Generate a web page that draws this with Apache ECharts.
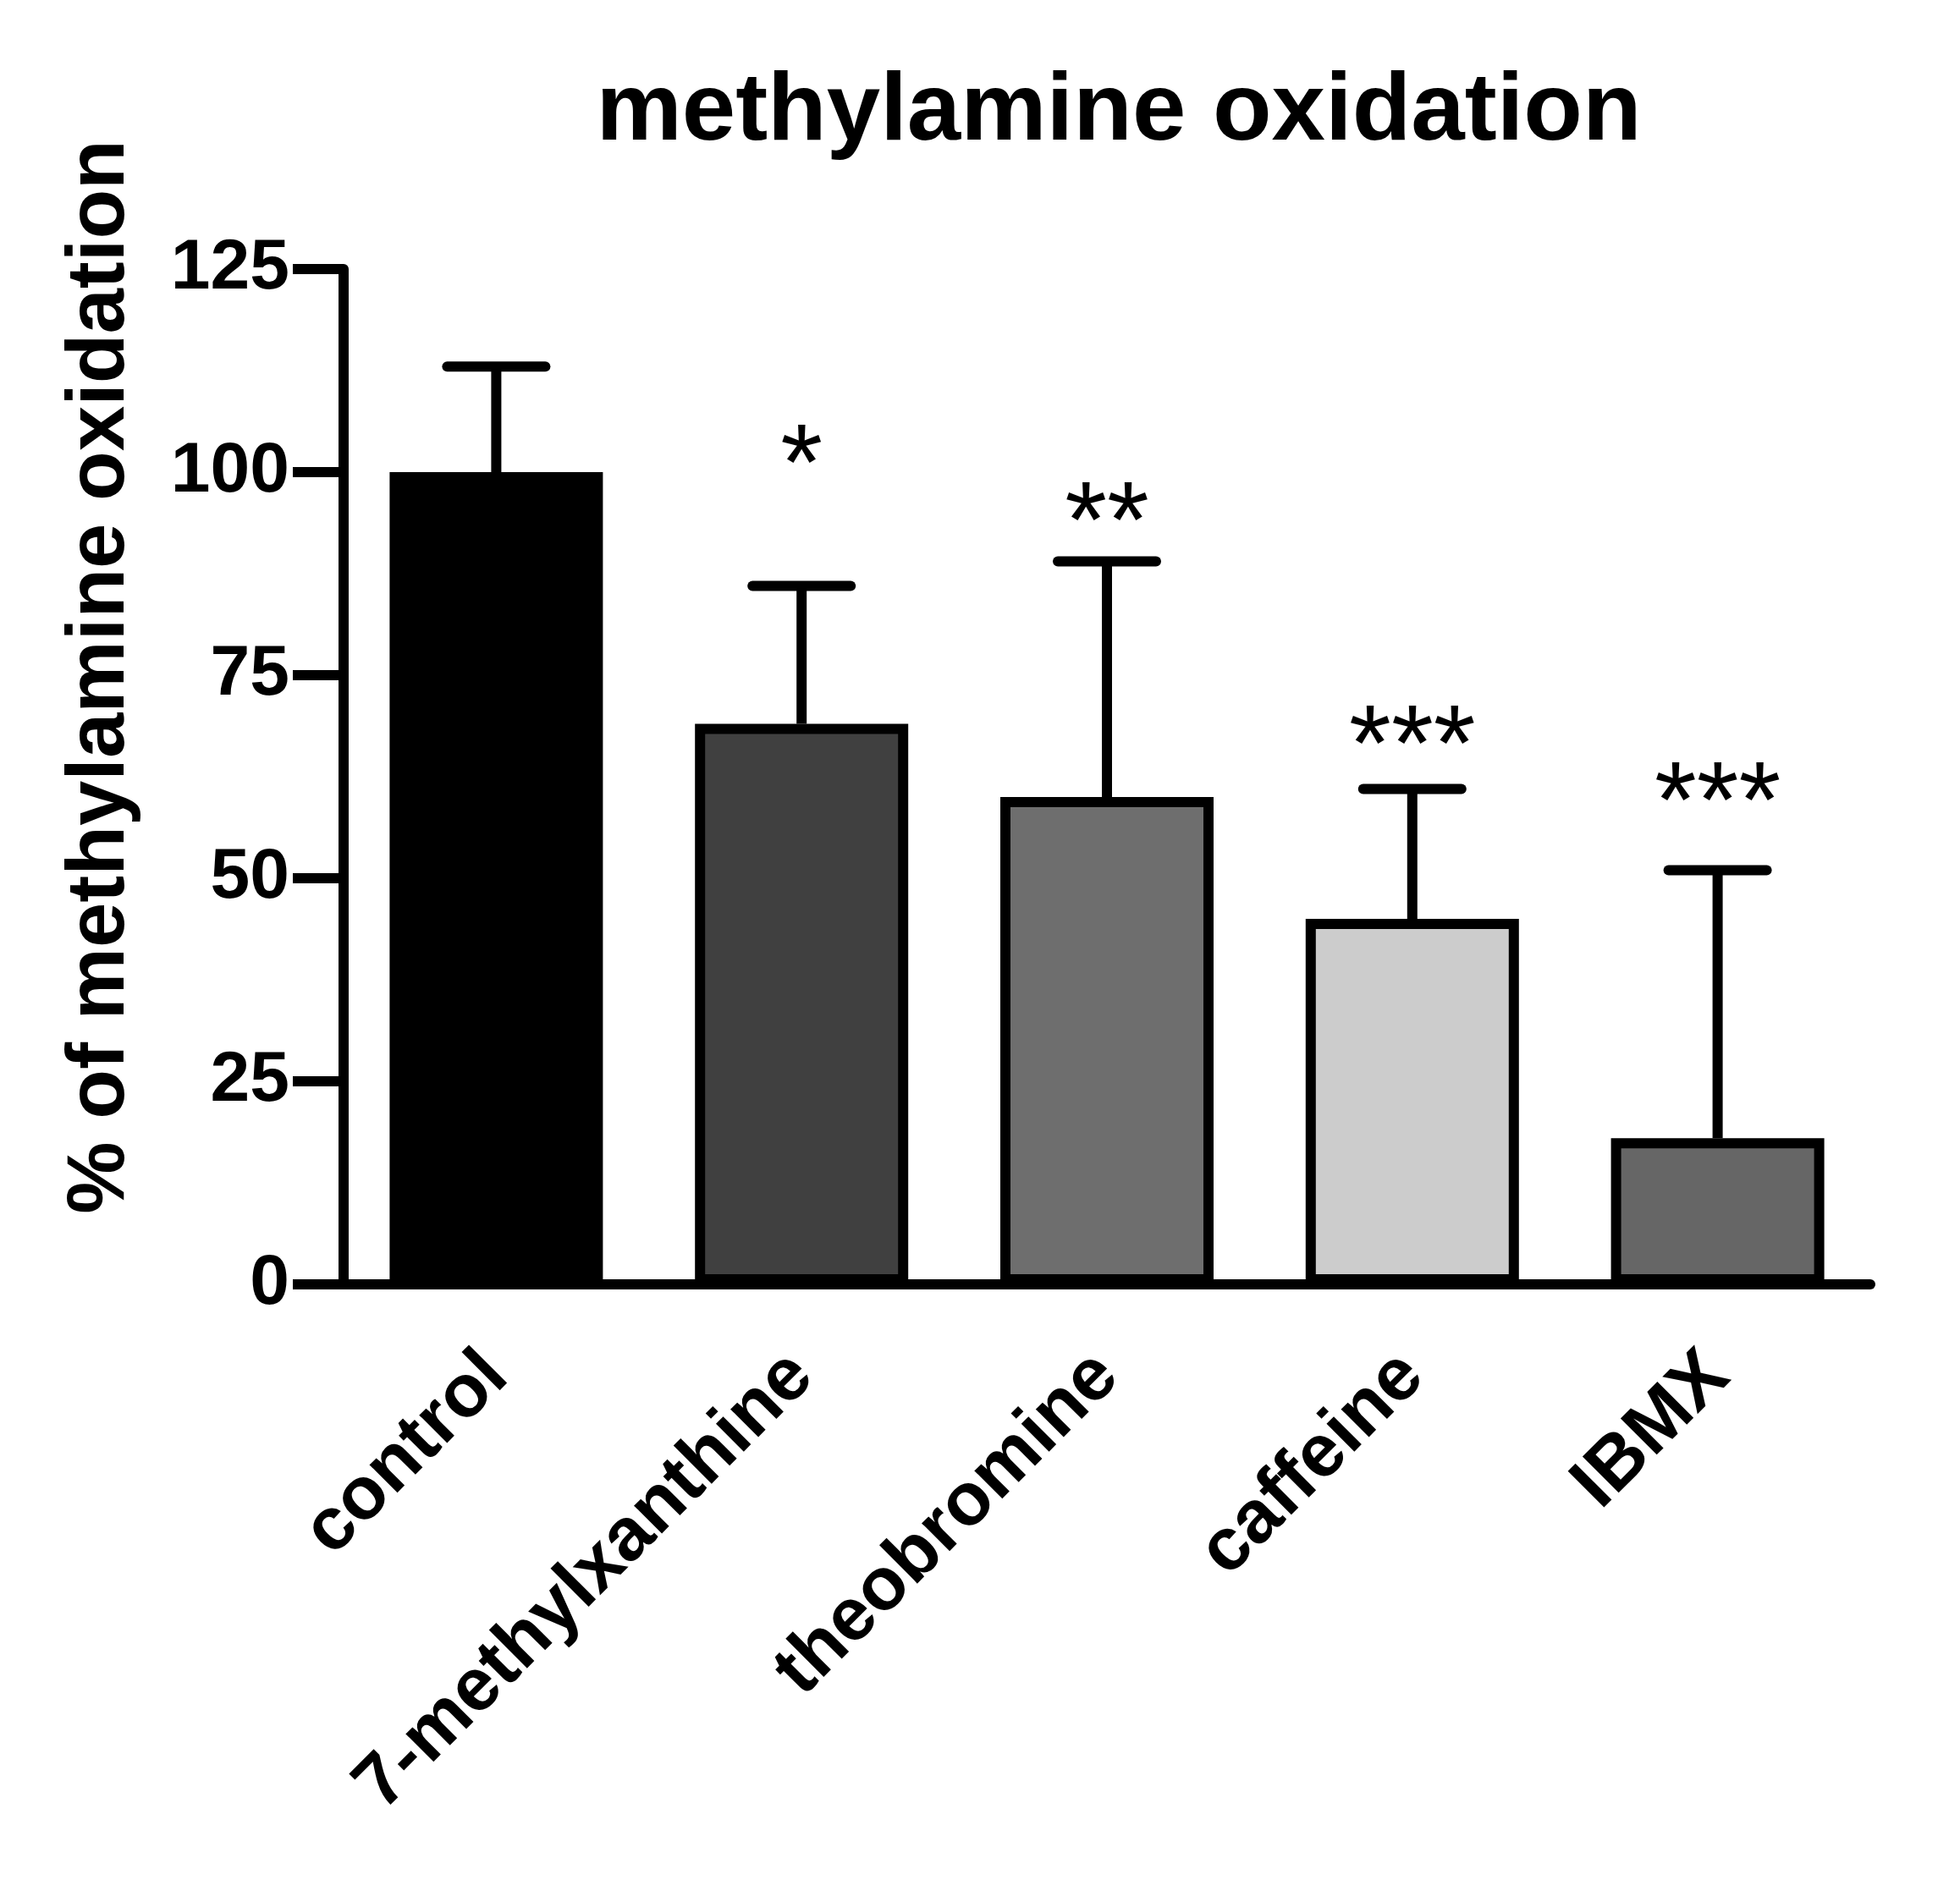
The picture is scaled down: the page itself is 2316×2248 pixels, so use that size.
<!DOCTYPE html>
<html lang="en">
  <head>
    <meta charset="UTF-8" />
    <title>methylamine oxidation</title>
    <script src="https://cdn.jsdelivr.net/npm/echarts@6.0.0/dist/echarts.min.js"></script>
    <style>
      body { margin: 0; background: #ffffff; }
      #chart { width: 2316px; height: 2248px; }
    </style>
  </head>
  <body>
    <div id="chart"></div>
    <script>
      const chart = echarts.init(document.getElementById("chart"));

      var categories = ["control", "7-methylxanthine", "theobromine", "caffeine", "IBMX"];
      var means = [100, 69, 60, 45, 18];
      var upper = [113, 86, 89, 61, 51];
      var stars = ["", "*", "**", "***", "***"];
      var starY = [0, 103, 96, 68.5, 61.5];
      var colors = ["#000000", "#404040", "#6e6e6e", "#cccccc", "#666666"];
      var yTicks = [0, 25, 50, 75, 100, 125];

      var font = "Liberation Sans, Arial, sans-serif";
      var lw = 12;

      const options = {
        animation: false,
        graphic: [
          {
            type: "text",
            x: 1322,
            y: 134,
            style: {
              text: "methylamine oxidation",
              font: "bold 114px " + font,
              fill: "#000",
              align: "center",
              verticalAlign: "middle",
            },
          },
          {
            type: "text",
            x: 120,
            y: 800,
            rotation: Math.PI / 2,
            style: {
              text: "% of methylamine oxidation",
              font: "bold 96px " + font,
              fill: "#000",
              align: "center",
              verticalAlign: "middle",
            },
          },
        ],
        grid: { left: 406, right: 106, top: 318, bottom: 730 },
        xAxis: {
          type: "category",
          data: categories,
          axisLine: { lineStyle: { color: "#000", width: lw } },
          axisTick: { alignWithLabel: true, length: 65, lineStyle: { width: lw, color: "#000" } },
          axisLabel: {
            rotate: 45,
            margin: 95,
            fontSize: 88,
            fontWeight: "bold",
            fontFamily: font,
            color: "#000",
          },
        },
        yAxis: {
          type: "value",
          min: 0,
          max: 125,
          interval: 25,
          axisLine: { show: true, lineStyle: { color: "#000", width: lw } },
          axisTick: { show: true, length: 60, lineStyle: { width: lw, color: "#000" } },
          splitLine: { show: false },
          axisLabel: {
            margin: 64,
            fontSize: 84,
            fontWeight: "bold",
            fontFamily: font,
            color: "#000",
            formatter: function (v) { return yTicks.indexOf(v) >= 0 ? String(v) : ""; },
          },
        },
        series: [
          {
            type: "bar",
            data: means.map(function (v, i) {
              return { value: v, itemStyle: { color: colors[i] } };
            }),
            barWidth: 252,
            itemStyle: { borderColor: "#000", borderWidth: lw },
            z: 2,
          },
          {
            type: "custom",
            z: 1,
            data: categories.map(function (c, i) { return [i, means[i], upper[i], starY[i]]; }),
            renderItem: function (params, api) {
              var i = api.value(0);
              var base = api.coord([i, api.value(1)]);
              var top = api.coord([i, api.value(2)]);
              var sy = api.coord([i, api.value(3)]);
              var cap = 58;
              var children = [
                { type: "line", shape: { x1: base[0], y1: base[1], x2: top[0], y2: top[1] }, style: { stroke: "#000", lineWidth: lw } },
                { type: "line", shape: { x1: top[0] - cap, y1: top[1], x2: top[0] + cap, y2: top[1] }, style: { stroke: "#000", lineWidth: lw, lineCap: "round" } },
              ];
              if (stars[i]) {
                children.push({
                  type: "text",
                  x: sy[0],
                  y: sy[1] + 26,
                  style: { text: stars[i], font: "128px " + font, fill: "#000", align: "center", verticalAlign: "middle" },
                });
              }
              return { type: "group", children: children };
            },
          },
        ],
      };

      chart.setOption(options);
    </script>
  </body>
</html>
